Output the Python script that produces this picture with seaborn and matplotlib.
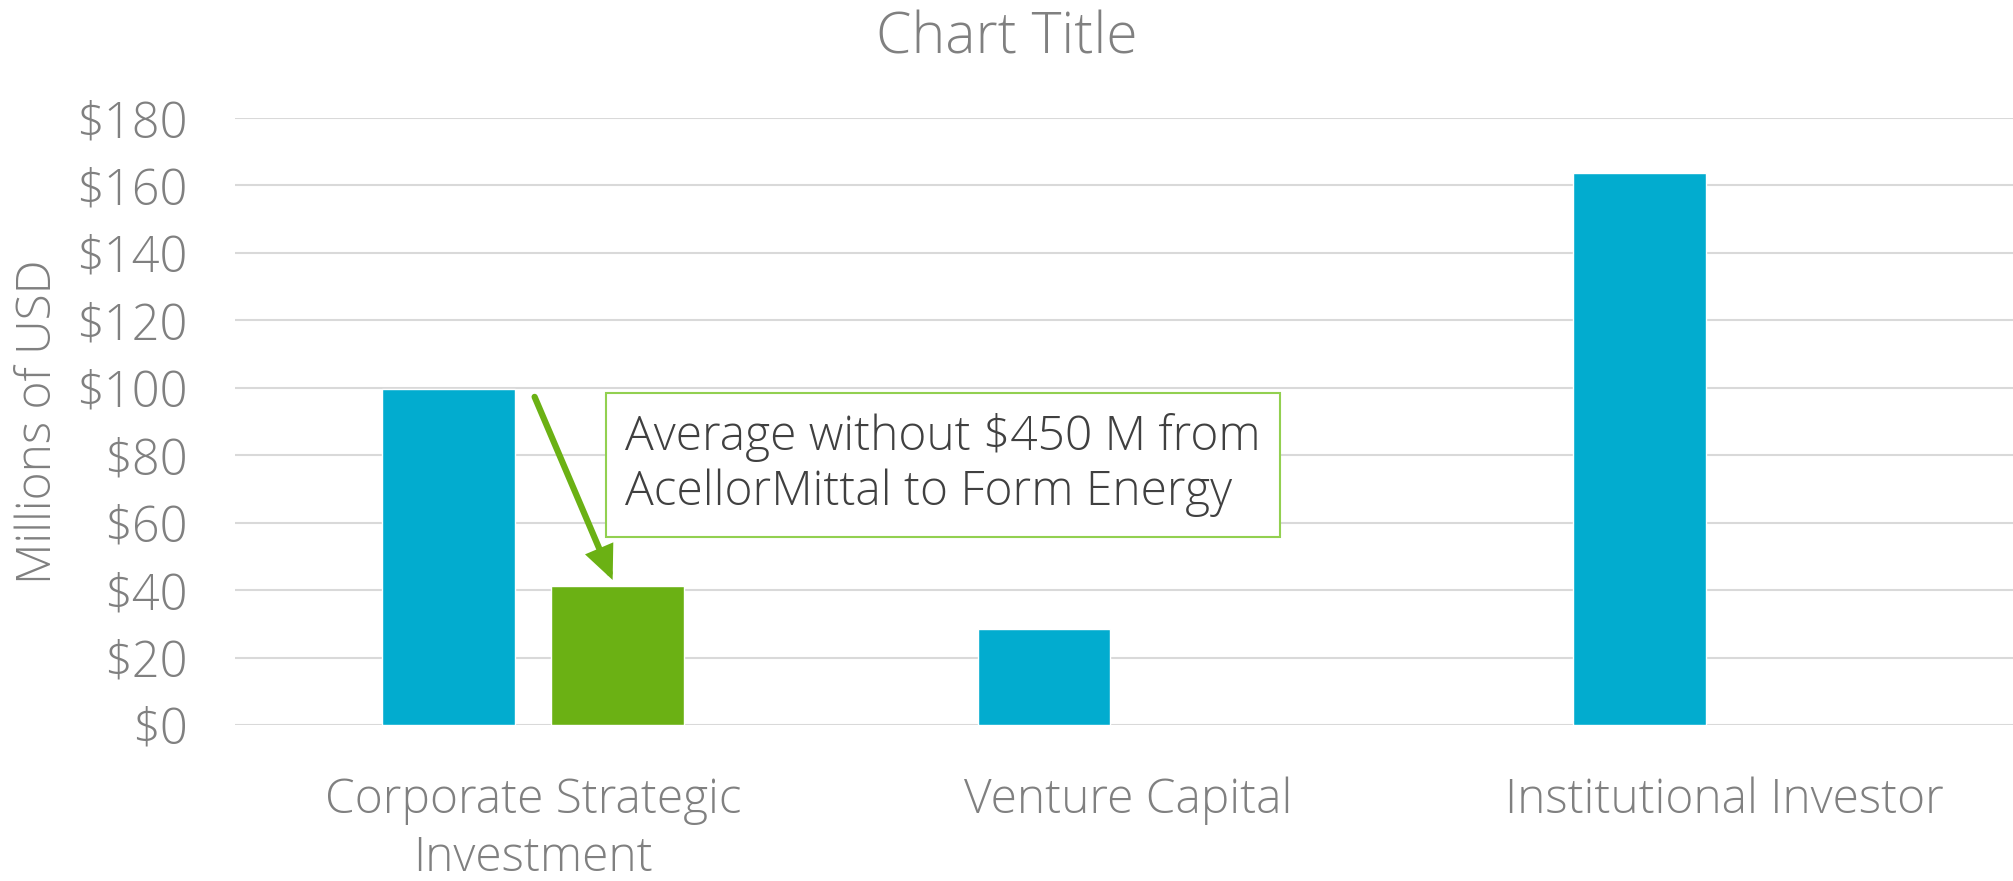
import matplotlib
matplotlib.use('Agg')
import matplotlib.pyplot as plt
import numpy as np
import pandas as pd
import seaborn as sns

# data
categories = ['Corporate Strategic\nInvestment', 'Venture Capital', 'Institutional Investor']
series_names = ['Average', 'Average without ArcelorMittal deal']
avg_all = [99.6, 28.6, 163.8]
avg_excl = [41.2, np.nan, np.nan]
yticks = [0, 20, 40, 60, 80, 100, 120, 140, 160, 180]
note = 'Average without $450 M from\nAcellorMittal to Form Energy'

BLUE = '#02ACCF'
GREEN = '#6BB114'
GRAY = '#808080'

df = pd.DataFrame({
    'category': categories * 2,
    'series': [series_names[0]] * 3 + [series_names[1]] * 3,
    'value': avg_all + avg_excl,
})

sns.set_theme(style='white')
plt.rcParams['font.family'] = ['Open Sans', 'DejaVu Sans']

fig = plt.figure(figsize=(20.13, 8.81), dpi=100)
ax = fig.add_axes([235 / 2013, 156 / 881, 1 - 235 / 2013, 607 / 881])

sns.barplot(data=df, x='category', y='value', hue='series', order=categories,
            palette=[BLUE, GREEN], width=0.567, gap=0.215, errorbar=None,
            saturation=1, legend=False, ax=ax)

ax.set_ylim(0, 180)
ax.set_xlim(-0.5, 2.485)
ax.set_yticks(yticks)
ax.set_yticklabels([f'${v}' for v in yticks])
ax.yaxis.grid(True, color='#D9D9D9', linewidth=1.5)
ax.set_axisbelow(True)
for s in ax.spines.values():
    s.set_visible(False)
ax.tick_params(axis='y', labelsize=35, labelcolor=GRAY, pad=34, length=0)
ax.tick_params(axis='x', labelsize=34.5, labelcolor=GRAY, pad=37, length=0)
for lbl in ax.get_xticklabels() + ax.get_yticklabels():
    lbl.set_fontweight('light')
for lbl in ax.get_xticklabels():
    lbl.set_linespacing(1.25)
ax.set_xlabel('')
ax.set_ylabel('Millions of USD', fontsize=34.5, color=GRAY, fontweight='light')
ax.yaxis.set_label_coords(-0.097, 0.5)

fig.suptitle('Chart Title', fontsize=41, color=GRAY, fontweight='light', y=0.989, va='top')

# callout box and arrow
ax.text(0.155, 77.1, note, fontsize=34.5, color='#404040', fontweight='light',
        va='center', ha='left', linespacing=1.2,
        bbox=dict(boxstyle='square,pad=0.4', fc='white', ec='#92D050', lw=1.5))
ax.annotate('', xy=(0.134, 43.0), xytext=(0.003, 97.3),
            arrowprops=dict(arrowstyle='-|>,head_length=0.85,head_width=0.38',
                            mutation_scale=20, color=GREEN, lw=4.5,
                            joinstyle='miter', shrinkA=0, shrinkB=0))

plt.savefig('out.png', dpi=100)
plt.close()
